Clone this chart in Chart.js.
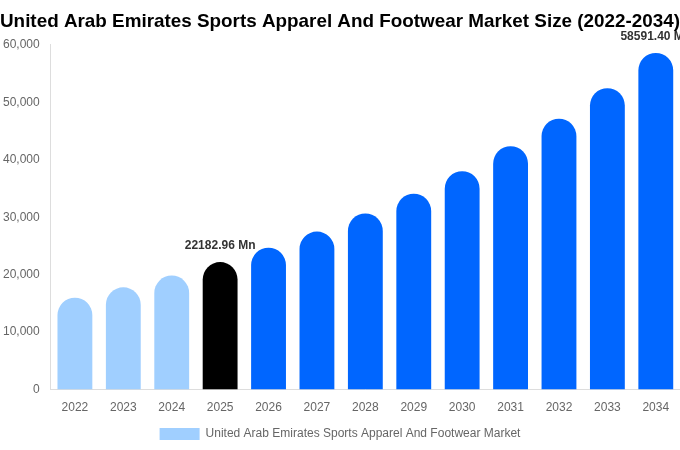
<!DOCTYPE html>
<html>
<head>
<meta charset="utf-8">
<script src="https://cdn.jsdelivr.net/npm/chart.js@4"></script>
<style>
html,body{margin:0;padding:0;background:#fff;}
#wrap{width:680px;height:450px;}
</style>
</head>
<body>
<div id="wrap"><canvas id="c"></canvas></div>
<script>
const categories = ['2022','2023','2024','2025','2026','2027','2028','2029','2030','2031','2032','2033','2034'];
const values = [16000, 17800, 19850, 22182.96, 24700, 27500, 30650, 34100, 38000, 42350, 47150, 52450, 58591.40];
const barColors = ['#a0cfff','#a0cfff','#a0cfff','#000000','#0066ff','#0066ff','#0066ff','#0066ff','#0066ff','#0066ff','#0066ff','#0066ff','#0066ff'];
const labelIndices = [3, 12];
const titleText = 'United Arab Emirates Sports Apparel And Footwear Market Size (2022-2034)';
const seriesName = 'United Arab Emirates Sports Apparel And Footwear Market';

const labelPlugin = {
  id: 'valueLabels',
  afterDatasetsDraw(chart) {
    const ctx = chart.ctx;
    const meta = chart.getDatasetMeta(0);
    ctx.save();
    ctx.font = 'bold 12px "Liberation Sans", Arial, sans-serif';
    ctx.fillStyle = '#333333';
    ctx.textAlign = 'center';
    ctx.textBaseline = 'bottom';
    labelIndices.forEach(i => {
      const el = meta.data[i];
      ctx.fillText(values[i].toFixed(2) + ' Mn', el.x, el.y - 10);
    });
    ctx.restore();
  }
};

Chart.defaults.font.family = '"Liberation Sans", Arial, sans-serif';
new Chart(document.getElementById('c'), {
  type: 'bar',
  data: {
    labels: categories,
    datasets: [{
      label: seriesName,
      data: values,
      backgroundColor: barColors,
      borderRadius: {topLeft: 20, topRight: 20, bottomLeft: 0, bottomRight: 0},
      borderSkipped: false,
      barPercentage: 0.9,
      categoryPercentage: 0.8
    }]
  },
  options: {
    responsive: true,
    maintainAspectRatio: false,
    animation: false,
    layout: {padding: {left: 0, right: 0, top: 0, bottom: 0}},
    plugins: {
      title: {
        display: true,
        text: titleText,
        color: '#000000',
        font: {size: 19, weight: 'bold'},
        padding: {top: 10, bottom: 12}
      },
      legend: {
        position: 'bottom',
        labels: {
          color: '#666666',
          font: {size: 12},
          boxWidth: 40,
          boxHeight: 12,
          generateLabels(chart) {
            return [{text: seriesName, fillStyle: '#a0cfff', strokeStyle: '#a0cfff', fontColor: '#666666', lineWidth: 0, datasetIndex: 0}];
          }
        }
      },
      tooltip: {enabled: false}
    },
    scales: {
      x: {
        grid: {display: false},
        border: {display: true, color: '#dddddd'},
        ticks: {color: '#666666', font: {size: 12}}
      },
      y: {
        min: 0,
        max: 60000,
        grid: {display: false},
        border: {display: true, color: '#dddddd'},
        ticks: {color: '#666666', font: {size: 12}, stepSize: 10000,
          callback: v => v.toLocaleString('en-US')}
      }
    }
  },
  plugins: [labelPlugin]
});
</script>
</body>
</html>
